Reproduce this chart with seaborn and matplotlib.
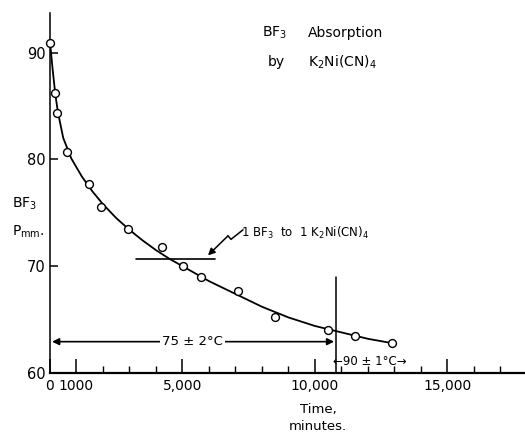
import numpy as np
import matplotlib
matplotlib.use("Agg")
import matplotlib.pyplot as plt
import seaborn as sns

# ==============================================================================
# BF3 absorption by K2Ni(CN)4 : pressure vs. time
# ==============================================================================

# measured points (minutes, mm)
time_pts = [0, 190, 252, 630, 1483, 1913, 2932, 4215, 5008, 5698, 7083, 8490, 10503, 11509, 12894]
press_pts = [90.9, 86.2, 84.3, 80.7, 77.7, 75.5, 73.5, 71.8, 70.05, 69.0, 67.7, 65.2, 64.0, 63.5, 62.8]

# hand drawn smooth curve
curve_t = [0, 100, 200, 300, 500, 800, 1200, 1600, 2000, 2500, 3000, 3500, 4000,
           4500, 5000, 5500, 6000, 7000, 8000, 9000, 10000, 11000, 12000, 12900]
curve_p = [91.0, 88.4, 86.1, 84.4, 82.0, 80.1, 78.4, 77.0, 75.8, 74.5, 73.4, 72.4, 71.5,
           70.7, 70.0, 69.3, 68.6, 67.4, 66.2, 65.2, 64.4, 63.8, 63.2, 62.8]

xtick_pos = [0, 1000, 5000, 10000, 15000]
xtick_lab = ["0", "1000", "5,000", "10,000", "15,000"]
xminor_pos = [2000, 3000, 4000, 6000, 7000, 8000, 9000, 11000, 12000, 13000, 14000, 16000, 17000]
ytick_pos = [60, 70, 80, 90]

ratio_level = 70.7          # 1 BF3 : 1 K2Ni(CN)4
ratio_span = [3245, 6226]
switch_time = 10780         # temperature raised to 90 C
switch_top = 69.0

sns.set_style("white")
plt.rcParams['font.family'] = ['DejaVu Sans']
plt.rcParams.update({"text.color": "black", "axes.edgecolor": "black",
                     "xtick.color": "black", "ytick.color": "black",
                     "axes.labelcolor": "black"})

W, H = 525, 433
fig = plt.figure(figsize=(W / 100, H / 100), dpi=100)
ax = fig.add_axes([50 / W, (H - 373) / H, 475 / W, 360 / H])


def fx(px):
    return px / W


def fy(py):
    return 1 - py / H


sns.lineplot(x=curve_t, y=curve_p, ax=ax, color="black", linewidth=1.3)
sns.scatterplot(x=time_pts, y=press_pts, ax=ax, s=32, zorder=4, clip_on=False)
pts = ax.collections[-1]
pts.set_facecolor("white")
pts.set_edgecolor("black")
pts.set_linewidth(1.0)

ax.set_xlim(0, 17925)
ax.set_ylim(60, 93.7)

for s in ["top", "right"]:
    ax.spines[s].set_visible(False)
ax.spines["left"].set_linewidth(1.1)
ax.spines["bottom"].set_linewidth(1.6)

ax.set_xticks(xtick_pos)
ax.set_xticklabels(xtick_lab)
ax.set_xticks(xminor_pos, minor=True)
ax.set_yticks(ytick_pos)
ax.tick_params(axis="x", which="major", direction="in", length=10, width=1.1,
               labelsize=10, pad=4, bottom=True)
ax.tick_params(axis="x", which="minor", direction="in", length=5, width=1.0, bottom=True)
ax.tick_params(axis="y", which="major", direction="in", length=6, width=1.1,
               labelsize=10.5, pad=3, left=True)
ax.set_xlabel("")
ax.set_ylabel("")

# 1:1 ratio marker line and zigzag pointer
ax.plot(ratio_span, [ratio_level, ratio_level], color="black", lw=1.2)
zx = [(p - 50) / 0.0265 for p in [243, 231, 228]]
zy = [60 + (373 - p) / 10.67 for p in [230, 239.5, 236]]
ax.plot(zx, zy, color="black", lw=1.1)
ax.annotate("", xy=((208 - 50) / 0.0265, 60 + (373 - 255.5) / 10.67),
            xytext=(zx[-1], zy[-1]),
            arrowprops=dict(arrowstyle="-|>", color="black", lw=1.1,
                            mutation_scale=10, shrinkA=0, shrinkB=0))

# temperature change
ax.plot([switch_time, switch_time], [60, switch_top], color="black", lw=1.1)
y75 = 60 + (373 - 341.7) / 10.67
ax.annotate("", xy=(80, y75), xytext=(switch_time - 60, y75),
            arrowprops=dict(arrowstyle="<|-|>", color="black", lw=1.2,
                            mutation_scale=10, shrinkA=0, shrinkB=0))
ax.text((192.5 - 50) / 0.0265, y75, "75 ± 2°C", ha="center", va="center",
        fontsize=9.5, bbox=dict(facecolor="white", edgecolor="none", pad=1.5))
ax.text((370 - 50) / 0.0265, 60 + (373 - 362) / 10.67, "←90 ± 1°C→",
        ha="center", va="center", fontsize=8.5)

# text
fig.text(fx(262), fy(33), r"BF$_3$", fontsize=10, va="center")
fig.text(fx(308), fy(33), "Absorption", fontsize=10, va="center")
fig.text(fx(268), fy(62), "by", fontsize=10, va="center")
fig.text(fx(308), fy(62), r"K$_2$Ni(CN)$_4$", fontsize=10, va="center")
fig.text(fx(12), fy(204), r"BF$_3$", fontsize=10, va="center")
fig.text(fx(12), fy(232), r"P$_{\mathrm{mm}}$.", fontsize=10, va="center")
fig.text(fx(241), fy(233), r"1 BF$_3$  to  1 K$_2$Ni(CN)$_4$", fontsize=8.5, va="center")
fig.text(fx(318), fy(409), "Time,", fontsize=9.5, ha="center", va="center")
fig.text(fx(318), fy(426), "minutes.", fontsize=9.5, ha="center", va="center")

fig.savefig("out.png", dpi=100, facecolor="white")
